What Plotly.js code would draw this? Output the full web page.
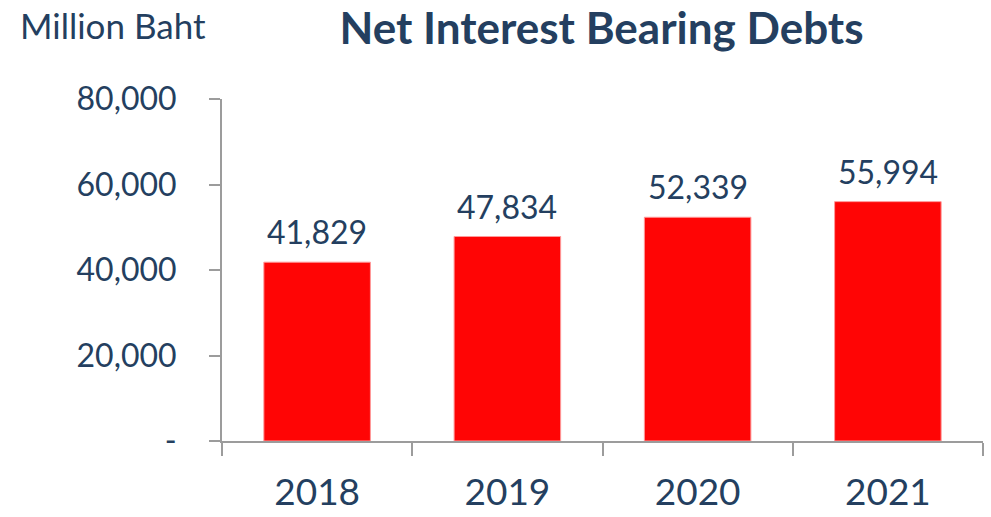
<!DOCTYPE html>
<html>
<head>
<meta charset="utf-8">
<script src="https://cdn.plot.ly/plotly-3.0.1.min.js"></script>
<style>html,body{margin:0;padding:0;background:#fff;}#chart{width:991px;height:517px;}</style>
</head>
<body>
<div id="chart"></div>
<script>
const years = [2018, 2019, 2020, 2021];
const netDebt = [41829, 47834, 52339, 55994];
const yTickVals = [0, 20000, 40000, 60000, 80000];
const yTickText = ['-', '20,000', '40,000', '60,000', '80,000'];

const navy = '#243F60';
const grey = '#9C9C9C';
const font = 'Lato, "Open Sans", sans-serif';

const trace = {
  type: 'bar',
  x: years,
  y: netDebt,
  width: 0.56,
  marker: {color: '#FF0505', line: {color: '#FF9A9A', width: 1}},
  hoverinfo: 'skip'
};

const annotations = years.map((yr, i) => ({
  x: yr, y: netDebt[i], xref: 'x', yref: 'y',
  text: netDebt[i].toLocaleString('en-US'),
  showarrow: false, yanchor: 'bottom', yshift: 9,
  font: {family: font, size: 32, color: navy}
}));
annotations.push({
  xref: 'paper', yref: 'paper', x: -0.268, y: 1.215, xanchor: 'left', yanchor: 'middle',
  text: 'Million Baht', showarrow: false,
  font: {family: font, size: 35, color: navy}
});

const layout = {
  width: 991, height: 517,
  margin: {l: 222, r: 8, t: 99, b: 76},
  paper_bgcolor: '#fff', plot_bgcolor: '#fff',
  showlegend: false,
  title: {text: '<b>Net Interest Bearing Debts</b>', x: 0.607, xanchor: 'center', y: 0.945, yanchor: 'middle',
          font: {family: font, size: 44, color: navy}},
  xaxis: {
    type: 'linear', range: [years[0] - 0.5, years[years.length - 1] + 0.5],
    showgrid: false, zeroline: false,
    showline: true, linecolor: grey, linewidth: 2,
    tickmode: 'array', tickvals: years, ticktext: years.map(String),
    ticks: 'outside', ticklen: 0, tickwidth: 0, tickcolor: 'rgba(0,0,0,0)',
    minor: {tickmode: 'linear', tick0: years[0] - 0.5, dtick: 1, ticks: 'outside', ticklen: 13,
            tickcolor: grey, tickwidth: 2, showgrid: false},
    tickfont: {family: font, size: 37, color: navy},
    ticklabelstandoff: 18
  },
  yaxis: {
    range: [0, 80000], showgrid: false, zeroline: false,
    showline: true, linecolor: grey, linewidth: 2,
    ticks: 'outside', ticklen: 11, tickcolor: grey, tickwidth: 2,
    tickvals: yTickVals, ticktext: yTickText,
    tickfont: {family: font, size: 32, color: navy},
    ticklabelstandoff: 26
  },
  annotations: annotations
};

Plotly.newPlot('chart', [trace], layout, {staticPlot: true, displayModeBar: false});
</script>
</body>
</html>
